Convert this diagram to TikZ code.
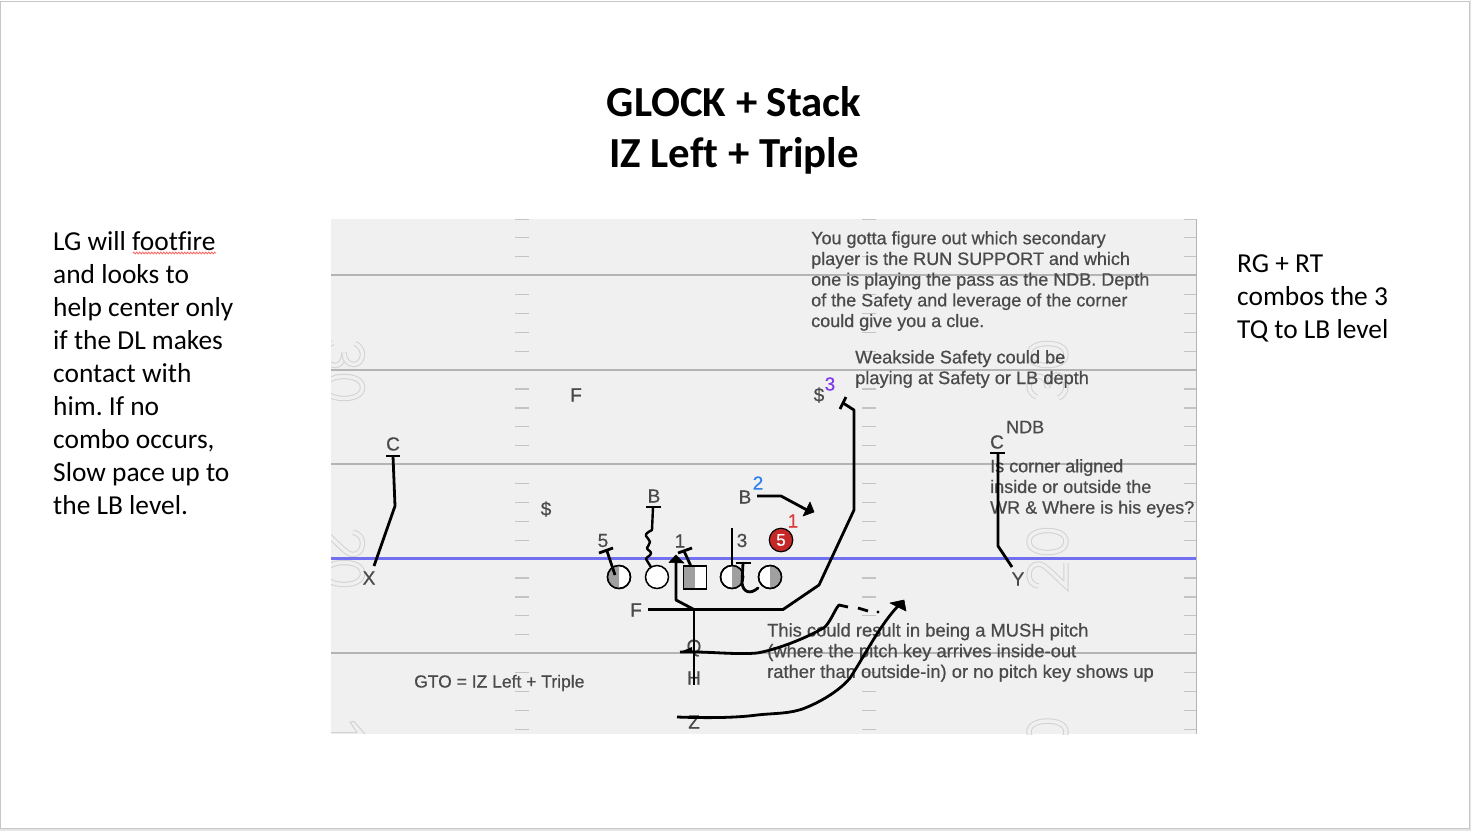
\documentclass[tikz,border=0pt]{standalone}
\usepackage{fontspec}
\setmainfont{Carlito}[Ligatures=NoCommon]
\newfontfamily\fieldfont[FakeBold=0.6]{Liberation Sans}
\frenchspacing
\usetikzlibrary{decorations.pathmorphing}
\definecolor{fieldbg}{HTML}{F0F0F0}
\definecolor{fline}{HTML}{B4B4B4}
\definecolor{tick}{HTML}{C4C4C4}
\definecolor{ftext}{HTML}{4A4A4A}
\definecolor{los}{HTML}{7070F0}
\definecolor{half}{HTML}{A0A0A0}
\definecolor{numln}{HTML}{D2D2D2}
\definecolor{twoblue}{HTML}{2F80ED}
\definecolor{onered}{HTML}{E03A3A}
\definecolor{threeviolet}{HTML}{7C3AED}
\definecolor{dtred}{HTML}{C62828}
\tikzset{
  x=1pt,y=-1pt,
  yardline/.style={fline,line width=1.6pt},
  hash/.style={tick,line width=1.2pt},
  num/.style={numln,line width=1pt,double=fieldbg,double distance=3.4pt,line cap=butt},
  route/.style={black,line width=2.8pt,line join=round},
  thin route/.style={black,line width=2.4pt,line join=round,line cap=round},
  tipfill/.style={fill=black,draw=black,line width=.6pt,line join=round},
  flabel/.style={font=\fieldfont\fontsize{19}{20}\selectfont,text=ftext,inner sep=0pt},
  note/.style={font=\fieldfont\fontsize{18}{20.7}\selectfont,text=ftext,inner sep=0pt,align=left,anchor=north west},
  side/.style={font=\fontsize{27.4}{33}\selectfont,text=black,inner sep=0pt,align=left,anchor=north west},
  titletext/.style={font=\bfseries\fontsize{42.8}{51}\selectfont,text=black,inner sep=0pt,align=center},
  man/.style={circle,draw=black,line width=1.5pt,minimum size=23pt,inner sep=0pt,fill=white},
  box/.style={draw=black,line width=1.5pt,minimum size=23pt,inner sep=0pt,fill=white},
}
\newcommand{\glyphzero}[3]{\draw[num,shift={(#1,#2)},rotate=#3] (0,-18.5) .. controls (8,-18.5) and (11,-9) .. (11,0) .. controls (11,9) and (8,18.5) .. (0,18.5) .. controls (-8,18.5) and (-11,9) .. (-11,0) .. controls (-11,-9) and (-8,-18.5) .. (0,-18.5) -- cycle;}
\newcommand{\glyphtwo}[3]{\draw[num,shift={(#1,#2)},rotate=#3] (-11,-9) .. controls (-10,-16) and (-5,-18.5) .. (0,-18.5) .. controls (7,-18.5) and (11,-14) .. (11,-9) .. controls (11,-3) and (3,3) .. (-11,18.5) -- (12,18.5);}
\newcommand{\glyphthree}[3]{\draw[num,shift={(#1,#2)},rotate=#3] (-2,0) .. controls (6,0) and (11,4) .. (11,9) .. controls (11,15) and (6,18.5) .. (0,18.5) .. controls (-5,18.5) and (-10,16) .. (-12,11);
\draw[num,shift={(#1,#2)},rotate=#3] (-11,-11) .. controls (-9,-16) and (-4,-18.5) .. (0,-18.5) .. controls (6,-18.5) and (10,-14) .. (10,-10) .. controls (10,-4) and (5,0) .. (-2,0);}
\begin{document}
\begin{tikzpicture}
\useasboundingbox (0,0) rectangle (1471,831);
% slide
\fill[white] (0,0) rectangle (1471,831);
\fill[black!10] (0,829) rectangle (1471,831);
\fill[black!10] (1470,0) rectangle (1471,831);
\draw[black!22,line width=1.2pt] (.6,1.5) rectangle (1469.4,828.6);
% field
\fill[fieldbg] (331,219) rectangle (1197,734);
\begin{scope}
\clip (331,219) rectangle (1197,734);
% yard numbers
\glyphthree{344}{354.5}{-90}
\glyphzero{344}{387.5}{-90}
\glyphtwo{344}{543.5}{-90}
\glyphzero{344}{573.5}{-90}
\draw[numln,line width=1pt,line join=round] (331,732.5) -- (357,732.5) -- (350,722) -- (354,721.5) -- (365,734);
\glyphzero{1047.5}{354.5}{90}
\glyphthree{1047.5}{386}{90}
\glyphzero{1047.5}{541.5}{90}
\glyphtwo{1047.5}{575}{90}
\glyphzero{1047.5}{732}{90}
% yard lines
\foreach \yy in {275,370,464,653}
  \draw[yardline] (331,\yy) -- (1197,\yy);
\draw[los,line width=2.4pt] (331,558.5) -- (1197,558.5);
% hash marks
\foreach \nn in {-3,...,27} {
  \pgfmathsetmacro{\hy}{219.5+18.9*(\nn+3)-0.6}
  \pgfmathtruncatemacro{\skip}{mod(\nn+3,5)==3?1:0}
  \ifnum\skip=0
  \draw[hash] (515,\hy) -- (529,\hy);
  \draw[hash] (862,\hy) -- (876,\hy);
  \draw[hash] (1184,\hy) -- (1197,\hy);
  \fi
}
\draw[fline,line width=1.4pt] (1196.5,219) -- (1196.5,734);
\end{scope}
% titles
\node[titletext] (title) at (734,130.5) {GLOCK + Stack\\IZ Left + Triple};
\node[side] (lefttext) at (53,231.5) {LG will footfire\\and looks to\\help center only\\if the DL makes\\contact with\\him. If no\\combo occurs,\\Slow pace up to\\the LB level.};
\node[side] (righttext) at (1237,254.5) {RG + RT\\combos the 3\\TQ to LB level};
\coordinate (squigA) at (133,253);
\coordinate (squigB) at (216,253);
\draw[red!60!white,line width=.8pt,decorate,decoration={zigzag,segment length=3pt,amplitude=.9pt}] (squigA) -- (squigB);
% notes
\node[note] (n1) at (811,231) {You gotta figure out which secondary\\player is the RUN SUPPORT and which\\one is playing the pass as the NDB. Depth\\of the Safety and leverage of the corner\\could give you a clue.};
\node[note,font=\fieldfont\fontsize{18.2}{20.7}\selectfont] (n2) at (855,350) {Weakside Safety could be\\playing at Safety or LB depth};
\node[note] (n3) at (990,459) {Is corner aligned\\inside or outside the\\WR \& Where is his eyes?};
\node[note,font=\fieldfont\fontsize{18.35}{20.7}\selectfont] (n4) at (767,623) {This could result in being a MUSH pitch\\(where the pitch key arrives inside-out\\rather than outside-in) or no pitch key shows up};
\node[note,anchor=west,font=\fieldfont\fontsize{17.5}{20}\selectfont] (gto) at (414,683) {GTO = IZ Left + Triple};
% labels
\node[flabel] (lC) at (393,444) {C};
\node[flabel] (lX) at (369,578) {X};
\node[flabel] (lF2) at (576,395) {F};
\node[flabel] (lS1) at (546,509) {\$};
\node[flabel] (lB1) at (654,496) {B};
\node[flabel] (l5) at (603,540.5) {5};
\node[flabel] (l1) at (680,541) {1};
\node[flabel] (l3) at (742,540.5) {3};
\node[flabel] (lB2) at (745,497) {B};
\node[flabel,text=twoblue] (l2) at (758,483) {2};
\node[flabel,text=onered] (lr1) at (793,521) {1};
\node[flabel] (lF) at (636,610) {F};
\node[flabel] (lQ) at (694,648) {Q};
\node[flabel] (lH) at (694,678) {H};
\node[flabel] (lZ) at (694,722) {Z};
\node[flabel] (lS2) at (819,395) {\$};
\node[flabel,text=threeviolet] (l3b) at (830,384) {3};
\node[flabel,anchor=west,font=\fieldfont\fontsize{18}{20}\selectfont] (lNDB) at (1006,427) {NDB};
\node[flabel] (lC2) at (997,442) {C};
\node[flabel] (lY) at (1018,579) {Y};
% line
\node[man] (m1) at (619,577) {};
\fill[half] (619,565.5) arc[start angle=90,end angle=270,radius=11.5pt] -- cycle;
\node[man,fill=none] at (619,577) {};
\node[man] (m2) at (657,577) {};
\node[box] (ctr) at (695,577.5) {};
\fill[half] (683.5,566) rectangle (695,589);
\node[box,fill=none] at (695,577.5) {};
\node[man] (m4) at (732,577) {};
\fill[half] (732,565.5) arc[start angle=90,end angle=-90,radius=11.5pt] -- cycle;
\node[man,fill=none] at (732,577) {};
\node[man] (m5) at (770,577) {};
\fill[half] (770,565.5) arc[start angle=90,end angle=-90,radius=11.5pt] -- cycle;
\node[man,fill=none] at (770,577) {};
\node[circle,fill=dtred,draw=black,line width=1.2pt,minimum size=23.5pt,inner sep=0pt,text=white,font=\fieldfont\fontsize{17}{17}\selectfont] (dt) at (781,540) {5};
% routes
\coordinate (cT) at (393,456);
\coordinate (xS) at (374,566);
\draw[route] (386,456) -- (400,456);
\draw[route] (cT) -- (395,506) -- (xS);
\coordinate (c2T) at (998,453);
\coordinate (yS) at (1012,567);
\draw[route] (990,453) -- (1005,453);
\draw[route] (c2T) -- (998,546) -- (yS);
% 5 tech
\coordinate (t5) at (607,551);
\draw[route] (599,553) -- (613,548);
\draw[route] (t5) -- (615,575);
% wavy B
\coordinate (tB) at (653,507);
\draw[route] (646,507) -- (661,507);
\draw[thin route] (tB) -- (652,530) .. controls (648,532) and (645,534) .. (646,536) .. controls (647,538) and (650,540) .. (650,542) .. controls (650,545) and (647,546) .. (647,548) .. controls (647,550) and (651,551) .. (651,553) .. controls (651,556) and (646,557) .. (646,559) -- (m2);
% 1 tech
\coordinate (t1) at (684,551);
\draw[route] (678,553) -- (692,548);
\draw[route] (t1) -- (ctr.110);
% 3 stem
\draw[route] (732,528) -- (m4.north);
\coordinate (t3) at (743,563);
\draw[route] (736,563) -- (751,563);
\draw[route,line cap=round] (t3) -- (742,583) .. controls (743,592) and (750,595) .. (758,588);
% B2 route
\coordinate (b2s) at (757,496);
\coordinate (b2t) at (814,512);
\draw[route] (b2s) -- (781,496) -- (807,510);
\fill[tipfill] (b2t) -- (803,516) -- (810,502) -- cycle;
% F route to the safety
\coordinate (fs) at (648,609.5);
\coordinate (s3) at (843,403);
\draw[route] (fs) -- (783,609.5) -- (819,585) -- (854,510) -- (854,410) -- (s3);
\draw[route] (840,409) -- (846,397);
% dive
\coordinate (dive) at (694,609.5);
\draw[route] (dive) -- (lH.south);
\coordinate (arrF) at (676,555);
\draw[route] (dive) -- (676,600) -- (676,562);
\fill[tipfill] (arrF) -- (669,562.5) -- (684,563) -- cycle;
% pitch
\coordinate (pS) at (680,652);
\fill[black] (pS) -- (692,647) -- (692,652) -- cycle;
\draw[route] (pS) .. controls (705,651) and (735,655) .. (757,653) .. controls (775,650) and (805,639) .. (825,627) .. controls (832,619) and (835,609) .. (839,605) -- (848,607);
\draw[route] (858,608) -- (868,611);
\fill[black] (878,612) circle (1.6pt);
% Z
\coordinate (zS) at (677,717);
\coordinate (zT) at (904,600);
\draw[route] (zS) .. controls (705,718) and (735,718) .. (757,715) .. controls (775,713) and (790,714) .. (805,708) .. controls (825,700) and (842,688) .. (850,678) .. controls (865,655) and (880,625) .. (898,606);
\fill[tipfill] (zT) -- (890,603) -- (906,611) -- cycle;
\end{tikzpicture}
\end{document}
